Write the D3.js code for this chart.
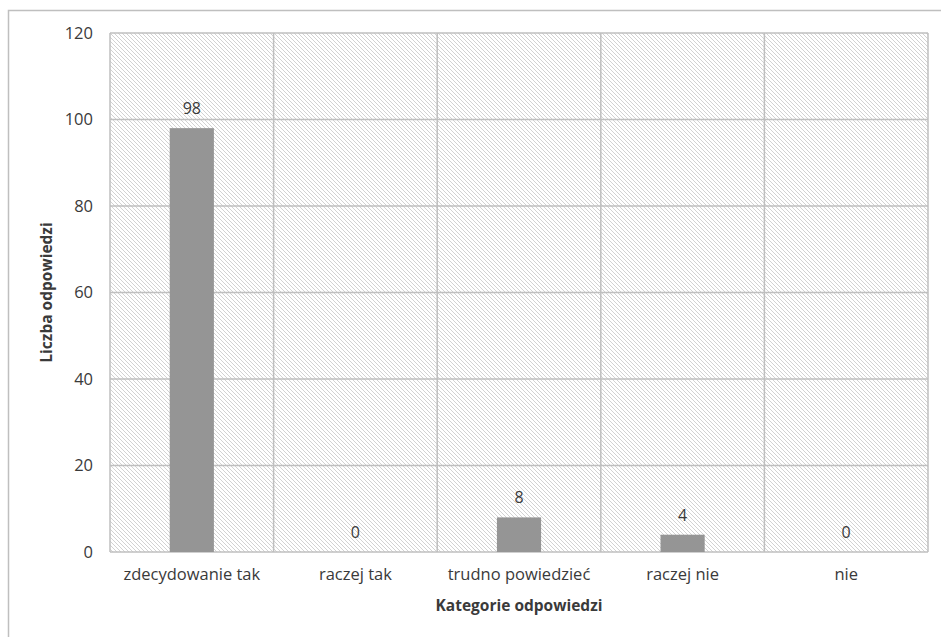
<!DOCTYPE html>
<html>
<head>
<meta charset="utf-8">
<script src="https://cdn.jsdelivr.net/npm/d3@7"></script>
<style>
  body { margin: 0; background: #fff; }
  text { font-family: "Open Sans", "Liberation Sans", sans-serif; fill: #3a3a3a; }
</style>
</head>
<body>
<div class="canvas"></div>
<script>
// data
const categories = ['zdecydowanie tak', 'raczej tak', 'trudno powiedzieć', 'raczej nie', 'nie']
const counts = [98, 0, 8, 4, 0]
const yTicks = [0, 20, 40, 60, 80, 100, 120]

const margin = { top: 33, right: 13, bottom: 85, left: 110 }
const width = 941
const height = 637
const graphWidth = width - margin.left - margin.right
const graphHeight = height - margin.top - margin.bottom

const svg = d3.select('.canvas')
  .append('svg')
  .attr('width', width)
  .attr('height', height)

// outer chart border (only top and left visible)
svg.append('path')
  .attr('d', `M8.5,${height} V10.5 H${width}`)
  .attr('fill', 'none')
  .attr('stroke', '#bfbfbf')
  .attr('stroke-width', 1.5)

// hatch pattern for the plot area
const defs = svg.append('defs')
const pat = defs.append('pattern')
  .attr('id', 'hatch')
  .attr('patternUnits', 'userSpaceOnUse')
  .attr('width', 4)
  .attr('height', 4)
pat.append('rect').attr('width', 4).attr('height', 4).attr('fill', '#fff')
pat.append('path')
  .attr('d', 'M-1,-1 L5,5 M-1,3 L1,5 M3,-1 L5,1')
  .attr('stroke', '#d2d2d2')
  .attr('stroke-width', 1)

const graph = svg.append('g')
  .attr('transform', `translate(${margin.left}, ${margin.top})`)

// scales
const x = d3.scaleBand()
  .domain(categories)
  .range([0, graphWidth])
  .paddingInner(0.73)
  .paddingOuter(0.365)
const xGrid = d3.scaleBand().domain(categories).range([0, graphWidth])
const y = d3.scaleLinear()
  .domain([0, 120])
  .range([graphHeight, 0])

graph.append('rect')
  .attr('width', graphWidth)
  .attr('height', graphHeight)
  .attr('fill', 'url(#hatch)')

// gridlines
graph.selectAll('.hgrid')
  .data(yTicks)
  .enter().append('line')
  .attr('x1', 0).attr('x2', graphWidth)
  .attr('y1', d => y(d)).attr('y2', d => y(d))
  .attr('stroke', '#bfbfbf')
  .attr('stroke-width', 1.5)

const vlines = categories.map(c => xGrid(c)).concat([graphWidth])
graph.selectAll('.vgrid')
  .data(vlines)
  .enter().append('line')
  .attr('x1', d => d).attr('x2', d => d)
  .attr('y1', 0).attr('y2', graphHeight)
  .attr('stroke', '#bfbfbf')
  .attr('stroke-width', 1.5)

// bars
graph.selectAll('.bar')
  .data(counts)
  .enter().append('rect')
  .attr('x', (d, i) => x(categories[i]))
  .attr('y', d => y(d))
  .attr('width', x.bandwidth())
  .attr('height', d => graphHeight - y(d))
  .attr('fill', '#959595')

// value labels
graph.selectAll('.val')
  .data(counts)
  .enter().append('text')
  .attr('x', (d, i) => x(categories[i]) + x.bandwidth() / 2)
  .attr('y', d => y(d) - 14)
  .attr('text-anchor', 'middle')
  .attr('font-size', 16)
  .text(d => d)

// axes
const xAxis = d3.axisBottom(x).tickSize(0).tickPadding(16)
const yAxis = d3.axisLeft(y).tickValues(yTicks).tickSize(0).tickPadding(17)

const xAxisGroup = graph.append('g')
  .attr('transform', `translate(0, ${graphHeight})`)
  .call(xAxis)
const yAxisGroup = graph.append('g').call(yAxis)

xAxisGroup.select('.domain').remove()
yAxisGroup.select('.domain').remove()
xAxisGroup.selectAll('text').attr('font-size', 16.5)
yAxisGroup.selectAll('text').attr('font-size', 16.5)

// axis titles
svg.append('text')
  .attr('x', margin.left + graphWidth / 2)
  .attr('y', 611)
  .attr('text-anchor', 'middle')
  .attr('font-size', 15.5)
  .attr('font-weight', 'bold')
  .text('Kategorie odpowiedzi')

svg.append('text')
  .attr('transform', `translate(52, ${margin.top + graphHeight / 2}) rotate(-90)`)
  .attr('text-anchor', 'middle')
  .attr('font-size', 15.5)
  .attr('font-weight', 'bold')
  .text('Liczba odpowiedzi')
</script>
</body>
</html>
